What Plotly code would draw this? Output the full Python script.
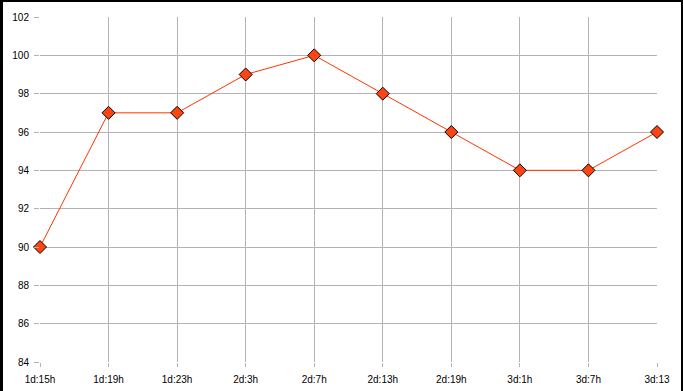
import plotly.graph_objects as go

categories = ["1d:15h", "1d:19h", "1d:23h", "2d:3h", "2d:7h", "2d:13h", "2d:19h", "3d:1h", "3d:7h", "3d:13"]
values = [90, 97, 97, 99, 100, 98, 96, 94, 94, 96]

W, H = 683, 391
L, R, T, B = 40, 26, 17, 29
pw, ph = W - L - R, H - T - B

fig = go.Figure()
fig.add_trace(go.Scatter(
    x=categories, y=values, mode="lines+markers",
    line=dict(color="#ff3300", width=1),
    marker=dict(symbol="diamond", size=10, color="#ff4411",
                line=dict(color="#000000", width=1)),
    showlegend=False, cliponaxis=False,
))

grid = "#b3b3b3"
font = dict(family="Liberation Sans, Arial, sans-serif", size=10, color="#000000")
fig.update_xaxes(type="category", range=[0, len(categories) - 1], showgrid=True, gridcolor=grid, gridwidth=1,
                 ticks="outside", ticklen=4, tickcolor=grid, showline=False, zeroline=False,
                 tickfont=font, fixedrange=True, ticklabelstandoff=4, automargin=False)
fig.update_yaxes(range=[84, 102], dtick=2, showgrid=True, gridcolor=grid, gridwidth=1,
                 ticks="outside", ticklen=5, tickcolor=grid, showline=False, zeroline=False,
                 tickfont=font, fixedrange=True, ticklabelstandoff=3, automargin=False)

def px_x(p):
    return (p - L) / pw

def px_y(p):
    return 1 - (p - T) / ph

shapes = [
    # left border
    dict(type="rect", xref="paper", yref="paper", x0=px_x(0), x1=px_x(3), y0=px_y(H), y1=px_y(0),
         fillcolor="#000000", line=dict(width=0), layer="above"),
    # top border
    dict(type="rect", xref="paper", yref="paper", x0=px_x(0), x1=px_x(W), y0=px_y(2), y1=px_y(0),
         fillcolor="#000000", line=dict(width=0), layer="above"),
    # right border
    dict(type="rect", xref="paper", yref="paper", x0=px_x(W - 2), x1=px_x(W), y0=px_y(H), y1=px_y(0),
         fillcolor="#000000", line=dict(width=0), layer="above"),
]

fig.update_layout(
    width=W, height=H, margin=dict(l=L, r=R, t=T, b=B, pad=0),
    paper_bgcolor="#ffffff", plot_bgcolor="#ffffff",
    shapes=shapes, font=font,
)

fig.write_html("out.html", config={"displayModeBar": False})
